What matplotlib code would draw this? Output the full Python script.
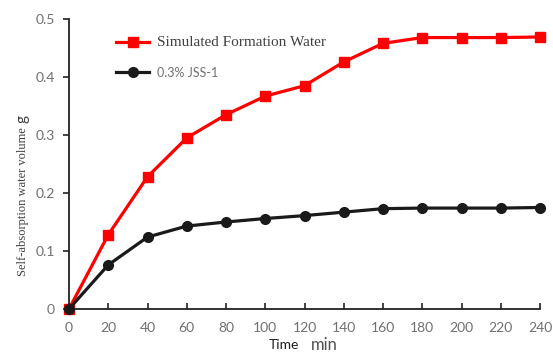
import matplotlib
matplotlib.use("Agg")
import matplotlib.pyplot as plt

time_min = [0, 20, 40, 60, 80, 100, 120, 140, 160, 180, 200, 220, 240]
formation_water = [0, 0.128, 0.228, 0.295, 0.335, 0.367, 0.385, 0.426, 0.458, 0.468, 0.468, 0.468, 0.469]
jss1 = [0, 0.076, 0.124, 0.143, 0.150, 0.156, 0.161, 0.167, 0.173, 0.174, 0.174, 0.174, 0.175]
xticks = [0, 20, 40, 60, 80, 100, 120, 140, 160, 180, 200, 220, 240]
yticks = [0, 0.1, 0.2, 0.3, 0.4, 0.5]
ytick_labels = ["0", "0.1", "0.2", "0.3", "0.4", "0.5"]

W, H = 553, 354
fig = plt.figure(figsize=(W / 100, H / 100), dpi=100)
ax = fig.add_axes([69/W, 1 - 309/H, 471/W, 290/H])

ax.plot(time_min, formation_water, color="#ff0000", lw=2.3, marker="s", ms=7,
        label="Simulated Formation Water", clip_on=False, zorder=3)
ax.plot(time_min, jss1, color="#1a1a1a", lw=2.3, marker="o", ms=7,
        label="0.3% JSS-1", clip_on=False, zorder=4)

ax.set_xlim(0, 240)
ax.set_ylim(0, 0.5)
ax.set_xticks(xticks)
ax.set_yticks(yticks)
ax.set_yticklabels(ytick_labels)
for s in ["top", "right"]:
    ax.spines[s].set_visible(False)
for s in ["left", "bottom"]:
    ax.spines[s].set_linewidth(1.3)
    ax.spines[s].set_color("#222222")
ax.tick_params(axis="x", direction="in", length=4, width=1.2, colors="#222222",
               labelcolor="#707070", labelsize=10, pad=9)
ax.tick_params(axis="y", direction="out", length=4, width=1.2, colors="#222222",
               labelcolor="#707070", labelsize=10, pad=6)
for lab in ax.get_xticklabels() + ax.get_yticklabels():
    lab.set_family("Lato")

leg = ax.legend(loc="upper left", bbox_to_anchor=(0.10, 0.94), frameon=False,
                fontsize=10, handlelength=2.4, handletextpad=0.55, labelspacing=1.25,
                borderpad=0, borderaxespad=0)
t0, t1 = leg.get_texts()
t0.set_family("Liberation Serif")
t0.set_color("#404040")
t0.set_fontsize(11)
t1.set_family("Lato")
t1.set_color("#707070")
t1.set_fontsize(9)

ylab = fig.text(23/W, 1 - 276/H, "Self-absorption water volume", rotation=90,
                family="Liberation Serif", fontsize=9, color="#404040",
                ha="center", va="bottom")
fig.canvas.draw()
bb = ylab.get_window_extent()
fig.text(22/W, (bb.y1 + 4) / H, "g", rotation=90, family="Lato", fontsize=11,
         color="#404040", ha="center", va="bottom")
fig.text(284/W, 1 - 345/H, "Time", family="Lato", fontsize=10,
         color="#202020", ha="center", va="center")
fig.text(324/W, 1 - 345/H, "min", family="Lato", fontsize=12,
         color="#505050", ha="center", va="center")

fig.savefig("out.png", dpi=100)
